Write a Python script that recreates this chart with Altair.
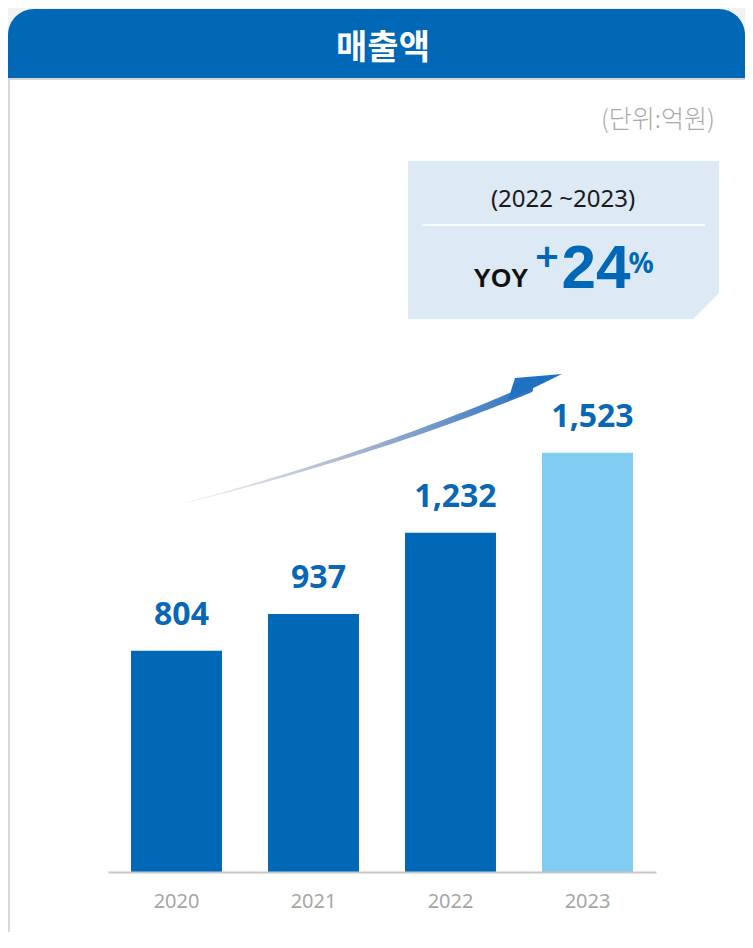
import altair as alt
import pandas as pd
import numpy as np

# ---- chart values ----
years = ["2020", "2021", "2022", "2023"]
sales = [804, 937, 1232, 1523]
bar_colors = ["#0068b7", "#0068b7", "#0068b7", "#80cdf1"]
title_text = "매출액"
unit_text = "(단위:억원)"
period_text = "(2022  ~2023)"
yoy_label = "YOY"
yoy_sign = "+"
yoy_value = "24"
yoy_unit = "%"

df = pd.DataFrame({"year": years, "sales": sales})

W, H, BOTTOM = 737, 864, 60
BLUE = "#0068b7"
one = pd.DataFrame({"a": [0]})

# ---- decorations ----
panel = alt.Chart(one).mark_rect(color="white").encode(
    x=alt.value(2), x2=alt.value(W), y=alt.value(70), y2=alt.value(H + BOTTOM))
left_line = alt.Chart(one).mark_rect(color="#d9d9d9").encode(
    x=alt.value(0), x2=alt.value(2), y=alt.value(70), y2=alt.value(H + BOTTOM))
header = alt.Chart(one).mark_rect(
    color=BLUE, cornerRadiusTopLeft=26, cornerRadiusTopRight=26).encode(
    x=alt.value(0), x2=alt.value(W), y=alt.value(1), y2=alt.value(70))
header_shadow = alt.Chart(one).mark_rect(color="#d6d6d6").encode(
    x=alt.value(0), x2=alt.value(W), y=alt.value(70), y2=alt.value(72))
title = alt.Chart(one).mark_text(
    text=title_text, font="Noto Sans CJK KR", fontSize=34, fontWeight="bold",
    color="white", align="center", baseline="alphabetic").encode(
    x=alt.value(375), y=alt.value(51))
unit = alt.Chart(one).mark_text(
    text=unit_text, font="Noto Sans CJK KR", fontSize=25, fontWeight=300,
    color="#aaaaaa", align="right", baseline="alphabetic").encode(
    x=alt.value(707), y=alt.value(120))

box_pts = pd.DataFrame({"px": [400, 685, 711], "py": [153, 153, 153], "py2": [311, 311, 285]})
box = alt.Chart(box_pts).mark_area(color="#dde9f5", orient="vertical", interpolate="linear").encode(
    x=alt.X("px:Q", scale=None, axis=None),
    y=alt.Y("py:Q", scale=None, axis=None),
    y2="py2:Q")
sep = alt.Chart(one).mark_rule(color="white", strokeWidth=1.5).encode(
    x=alt.value(414), x2=alt.value(697), y=alt.value(217))
period = alt.Chart(one).mark_text(
    text=period_text, font="Noto Sans", fontSize=24, color="#1a1a1a",
    align="center", baseline="alphabetic").encode(x=alt.value(555), y=alt.value(199))
yoy = alt.Chart(one).mark_text(
    text=yoy_label, font="Liberation Sans", fontSize=26, fontWeight="bold",
    color="#111111", align="center", baseline="alphabetic").encode(x=alt.value(493), y=alt.value(279))
plus = alt.Chart(one).mark_text(
    text=yoy_sign, font="Noto Sans", fontSize=42, fontWeight=600,
    color=BLUE, align="center", baseline="alphabetic").encode(x=alt.value(539), y=alt.value(264))
pct_num = alt.Chart(one).mark_text(
    text=yoy_value, font="Liberation Sans", fontSize=62, fontWeight="bold",
    color=BLUE, align="center", baseline="alphabetic").encode(x=alt.value(588), y=alt.value(280))
pct = alt.Chart(one).mark_text(
    text=yoy_unit, font="Noto Sans", fontSize=28, fontWeight="bold",
    color=BLUE, align="center", baseline="alphabetic").encode(x=alt.value(633), y=alt.value(265))

# arrow (decorative curve in pixel space)
t = np.linspace(0, 1, 40)
p0, c, p2 = np.array([177, 495]), np.array([370, 445]), np.array([521, 381])
pts = np.outer((1 - t) ** 2, p0) + np.outer(2 * t * (1 - t), c) + np.outer(t ** 2, p2)
arrow_df = pd.DataFrame({"i": np.arange(len(t)), "px": pts[:, 0], "py": pts[:, 1], "w": 0.6 + 7.4 * t})
arrow = alt.Chart(arrow_df).mark_trail(
    color=alt.LinearGradient(
        gradient="linear", x1=0, y1=0, x2=1, y2=0,
        stops=[alt.GradientStop(color="#f2f2f2", offset=0),
               alt.GradientStop(color="#a7b4cf", offset=0.5),
               alt.GradientStop(color="#2a72c2", offset=1)])).encode(
    x=alt.X("px:Q", scale=None, axis=None),
    y=alt.Y("py:Q", scale=None, axis=None),
    size=alt.Size("w:Q", scale=None, legend=None),
    order="i:Q")
head_df = pd.DataFrame({"px": [500, 507, 554], "py": [392, 370, 366], "py2": [392, 389, 366]})
head = alt.Chart(head_df).mark_area(color="#1f71c2", orient="vertical", interpolate="linear").encode(
    x=alt.X("px:Q", scale=None, axis=None),
    y=alt.Y("py:Q", scale=None, axis=None),
    y2="py2:Q")

# ---- data layers ----
xaxis = alt.Axis(title=None, orient="bottom", labelColor="#a6a6a6", labelFontSize=20, labelFont="Noto Sans",
                 domainColor="#c8c8c8", domainWidth=2, ticks=False, tickSize=0,
                 labelPadding=19, labelAngle=0, grid=False, zindex=1)
xenc = alt.X("year:N", sort=years,
             scale=alt.Scale(range=[100, 648], paddingInner=0.336, paddingOuter=0.168),
             axis=xaxis)
yenc = alt.Y("sales:Q", scale=alt.Scale(domain=[0, 3138], nice=False, zero=True), axis=None)

bars = alt.Chart(df).mark_bar().encode(
    x=xenc, y=yenc,
    color=alt.Color("year:N", scale=alt.Scale(domain=years, range=bar_colors), legend=None))
labels = alt.Chart(df).mark_text(
    font="Noto Sans", fontSize=32, fontWeight="bold", color="#0a67b5",
    baseline="alphabetic", dy=-26, dx=5).encode(
    x=alt.X("year:N", sort=years, axis=xaxis), y=alt.Y("sales:Q", axis=None),
    text=alt.Text("sales:Q", format=","))

data_layer = alt.layer(bars, labels)

chart = alt.layer(
    panel, left_line, header, header_shadow, title, unit,
    box, sep, period, yoy, plus, pct_num, pct,
    arrow, head, data_layer
).resolve_scale(x="independent", y="independent").properties(
    width=W, height=H,
    autosize=alt.AutoSizeParams(type="none"),
    padding={"left": 0, "top": 0, "right": 0, "bottom": BOTTOM},
    background="#f2f2f2",
).configure_view(stroke=None)

chart.save("out.html", embed_options={"renderer": "svg", "actions": False})
